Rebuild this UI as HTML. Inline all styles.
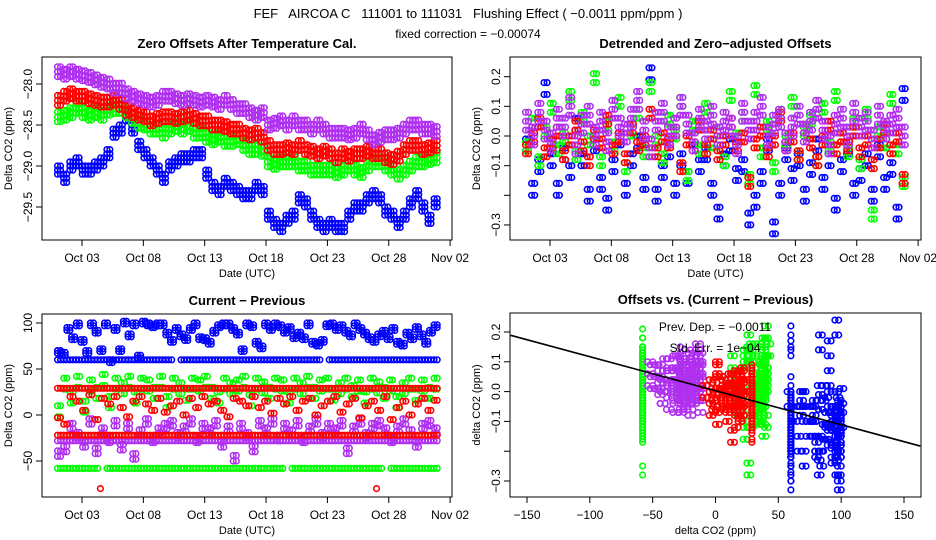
<!DOCTYPE html>
<html><head><meta charset="utf-8"><style>
body{margin:0;background:#fff}
svg{display:block;font-family:"Liberation Sans",sans-serif}
</style></head><body>
<svg id="chart" width="936" height="540" viewBox="0 0 936 540">
<rect width="936" height="540" fill="#fff"/>
<text x="468" y="18" font-size="13" text-anchor="middle" style="white-space:pre">FEF   AIRCOA C   111001 to 111031   Flushing Effect ( −0.0011 ppm/ppm )</text>
<text x="468" y="38" font-size="12" text-anchor="middle">fixed correction = −0.00074</text>
<g id="p1"></g>
<g id="p2"></g>
<g id="p3"></g>
<g id="p4"></g>
</svg>
<script>
// ---- Panel 1: zero offsets (half-day samples, Oct 1 .. Oct 31.5)
const p1Purple=[-27.85,-27.88,-27.85,-27.88,-27.9,-27.92,-27.95,-27.98,-28.0,-28.05,-28.05,-28.12,-28.15,-28.18,-28.2,-28.22,-28.2,-28.15,-28.15,-28.18,-28.2,-28.18,-28.2,-28.22,-28.2,-28.22,-28.25,-28.2,-28.25,-28.3,-28.3,-28.35,-28.38,-28.35,-28.5,-28.48,-28.45,-28.5,-28.45,-28.5,-28.5,-28.55,-28.5,-28.55,-28.6,-28.6,-28.6,-28.62,-28.6,-28.55,-28.62,-28.68,-28.65,-28.62,-28.62,-28.6,-28.55,-28.5,-28.5,-28.55,-28.55,-28.58];
const p1Red=[-28.2,-28.15,-28.12,-28.15,-28.15,-28.18,-28.2,-28.22,-28.22,-28.2,-28.25,-28.32,-28.35,-28.38,-28.4,-28.45,-28.42,-28.4,-28.4,-28.42,-28.4,-28.38,-28.42,-28.45,-28.45,-28.5,-28.5,-28.52,-28.55,-28.55,-28.6,-28.62,-28.6,-28.65,-28.75,-28.8,-28.8,-28.78,-28.8,-28.75,-28.8,-28.82,-28.85,-28.82,-28.85,-28.9,-28.85,-28.88,-28.85,-28.85,-28.82,-28.85,-28.85,-28.9,-28.92,-28.88,-28.8,-28.75,-28.75,-28.8,-28.78,-28.75];
const p1Green=[-28.4,-28.38,-28.35,-28.3,-28.35,-28.38,-28.35,-28.38,-28.32,-28.3,-28.3,-28.35,-28.42,-28.48,-28.5,-28.55,-28.55,-28.6,-28.55,-28.52,-28.55,-28.52,-28.6,-28.6,-28.65,-28.68,-28.65,-28.7,-28.7,-28.68,-28.75,-28.8,-28.8,-28.82,-28.95,-28.98,-28.95,-28.95,-28.95,-29.0,-29.0,-29.05,-29.05,-29.05,-29.05,-29.08,-29.05,-29.0,-29.05,-29.08,-29.0,-28.95,-28.95,-29.0,-29.05,-29.1,-29.05,-29.0,-28.95,-28.95,-28.92,-28.9];
const p1Blue=[-29.05,-29.15,-29.0,-28.95,-29.05,-29.05,-29.0,-28.95,-28.85,-28.6,-28.55,-28.4,-28.55,-28.75,-28.85,-28.95,-29.05,-29.15,-29.0,-28.95,-28.9,-28.9,-28.85,-28.85,-29.1,-29.25,-29.3,-29.2,-29.25,-29.3,-29.35,-29.35,-29.25,-29.3,-29.6,-29.7,-29.75,-29.65,-29.6,-29.4,-29.45,-29.6,-29.7,-29.75,-29.7,-29.75,-29.75,-29.6,-29.5,-29.5,-29.4,-29.35,-29.4,-29.55,-29.6,-29.7,-29.6,-29.45,-29.35,-29.5,-29.65,-29.45];
const p1Ticks=[-28.0,-28.5,-29.0,-29.5];
// ---- Panel 2: detrended offsets
const p2Purple=[0.05,0.0,0.08,0.02,-0.02,0.06,0.03,0.1,-0.03,0.04,0.07,0.0,0.05,-0.02,0.09,0.03,0.01,0.06,0.12,0.02,-0.04,0.05,0.08,0.0,0.03,0.1,0.04,-0.02,0.06,0.02,0.07,0.0,0.05,0.03,-0.03,0.08,0.02,0.05,0.1,0.0,0.04,0.06,-0.02,0.03,0.07,0.01,0.05,0.09,0.02,-0.03,0.04,0.06,0.0,0.08,0.03,0.05,-0.01,0.07,0.02,0.04,0.06,0.0];
const p2Red=[-0.06,-0.02,0.03,-0.07,-0.04,0.0,-0.08,-0.03,0.02,-0.05,-0.1,-0.01,-0.04,0.04,-0.06,-0.02,-0.09,0.01,-0.05,-0.03,0.06,-0.07,-0.02,-0.04,0.0,-0.12,-0.03,-0.05,0.02,-0.06,-0.01,-0.08,-0.03,0.03,-0.05,-0.02,-0.17,-0.04,0.0,-0.07,-0.03,0.05,-0.05,-0.02,-0.08,0.01,-0.04,-0.1,-0.03,0.02,-0.06,-0.02,-0.05,0.0,-0.07,-0.03,-0.11,-0.04,0.01,-0.06,-0.02,-0.16];
const p2Green=[-0.05,0.03,-0.1,0.0,0.08,-0.06,-0.02,0.12,-0.08,0.05,-0.03,0.18,-0.1,0.02,-0.05,0.1,-0.12,0.0,0.06,-0.07,0.15,-0.03,-0.09,0.04,-0.01,0.1,-0.15,0.02,-0.06,0.08,-0.04,0.0,-0.1,0.12,-0.02,0.05,-0.16,0.14,-0.07,0.02,-0.12,0.06,-0.03,0.1,-0.08,0.0,0.04,-0.1,0.08,-0.05,0.12,-0.02,-0.07,0.03,-0.11,0.06,-0.28,0.0,-0.04,0.11,-0.06,-0.17];
const p2Blue=[-0.05,-0.2,-0.12,0.14,-0.1,-0.2,-0.08,-0.14,0.02,-0.1,-0.22,-0.05,-0.18,-0.25,-0.12,-0.03,-0.2,-0.1,-0.04,-0.18,0.19,-0.22,-0.14,-0.07,-0.2,-0.1,-0.16,-0.03,-0.12,-0.08,-0.2,-0.28,-0.1,-0.05,-0.15,-0.12,-0.3,-0.24,-0.16,-0.05,-0.33,-0.2,-0.08,-0.15,-0.1,-0.22,-0.13,-0.05,-0.18,-0.1,-0.25,-0.12,-0.06,-0.2,-0.15,-0.1,-0.22,-0.07,-0.18,-0.13,-0.28,0.12];
const p2Ticks=[0.2,0.1,0.0,-0.1,-0.2,-0.3];
const p2TickLabels=["0.2","0.1","0.0","−0.1","","−0.3"];
// ---- Panel 3: current - previous
const p3BlueConst=[60,60,60,60,60,60,60,60,60,60,60,60,60,60,60,60,60,60,60,null,60,60,60,60,60,60,60,60,60,60,60,60,60,60,60,60,60,60,60,60,60,60,60,null,60,60,60,60,60,60,60,60,60,60,60,60,60,60,60,60,60,60];
const p3BlueScatter=[70,68,95,85,100,82,70,100,92,72,100,60,95,72,102,88,100,65,102,100,98,100,100,90,82,95,88,84,95,100,85,84,80,92,98,100,100,95,90,72,100,98,80,75,100,95,100,98,92,96,86,90,85,100,80,78,82,99,100,95,98,92,88,100,95,90,85,82,88,92,85,95,80,78,90,85,96,88,80,92,98];
const p3GreenConst=[-58,-58,-58,-58,-58,-58,-58,null,-58,-58,-58,-58,-58,-58,-58,-58,-58,-58,-58,-58,-58,-58,-58,-58,-58,-58,-58,-58,-58,-58,-58,-58,-58,-58,-58,-58,-58,null,-58,-58,-58,-58,-58,-58,-58,-58,-58,-58,-58,-58,-58,-58,-58,null,-58,-58,-58,-58,-58,-58,-58,-58];
const p3GreenScatter=[10,40,25,42,15,38,30,44,20,40,35,42,25,40,38,30,42,20,40,35,28,40,38,42,30,25,40,35,38,42,22,40,36,30,40,38,25,40,35,42,30,38,40,28,35,40,32,38,25,40,36,30,38,20,35,40,28,38,30,40];
const p3RedConstHigh=[29,29,29,29,29,29,29,29,29,29,29,29,29,29,29,29,29,29,29,29,29,29,29,29,29,29,29,29,29,29,29,29,29,29,29,29,29,29,29,29,29,29,29,29,29,29,29,29,29,29,29,29,29,29,29,29,29,29,29,29,29,29];
const p3RedConstLow=[-22,-22,-22,-22,-22,-22,-22,-22,-22,-22,-22,-22,-22,-22,-22,-22,-22,-22,-22,-22,-22,-22,-22,-22,-22,-22,-22,-22,-22,-22,-22,-22,-22,-22,-22,-22,-22,-22,-22,-22,-22,-22,-22,-22,-22,-22,-22,-22,-22,-22,-22,-22,-22,-22,-22,-22,-22,-22,-22,-22,-22,-22];
const p3RedScatter=[-3,-10,20,15,5,22,-5,18,12,20,8,-2,15,20,12,5,18,3,10,15,0,18,8,20,12,15,5,-2,18,15,10,20,8,15,2,18,12,20,5,15,18,0,10,15,20,3,12,18,-3,10,15,5,20,-5,8,15,0,12,18,5,16];
const p3PurpleConst=[-28,-28,-28,-28,-28,-28,-28,-28,-28,-28,-28,-28,-28,-28,-28,-28,-28,-28,-28,-28,-28,-28,-28,-28,-28,-28,-28,-28,-28,-28,-28,-28,-28,-28,-28,-28,-28,-28,-28,-28,-28,-28,-28,-28,-28,-28,-28,-28,-28,-28,-28,-28,-28,-28,-28,-28,-28,-28,-28,-28,-28,-28];
const p3PurpleScatter=[-45,-40,-15,-25,-35,-10,-42,-20,-30,-12,-38,-15,-48,-22,-10,-30,-20,-15,-12,-25,-18,-10,-30,-15,-20,-12,-35,-18,-50,-15,-25,-40,-12,-20,-10,-28,-15,-22,-12,-30,-18,-10,-25,-15,-20,-12,-42,-18,-10,-25,-15,-12,-20,-30,-18,-10,-22,-35,-15,-12,-20];
const p3RedOutlierDays=[4.5,27];
const p3RedOutlierValues=[-80,-80];
const p3Ticks=[100,50,0,-50];
// ---- Panel 4 fit
const fitSlope=-0.00114;
const fitIntercept=0.003;
const p4XTicks=[-150,-100,-50,0,50,100,150];
const dateTickDays=[3,8,13,18,23,28,33];
const dateTickLabels=["Oct 03","Oct 08","Oct 13","Oct 18","Oct 23","Oct 28","Nov 02"];

const NS="http://www.w3.org/2000/svg";
function mk(parent,tag,attrs){const e=document.createElementNS(NS,tag);for(const k in attrs)e.setAttribute(k,attrs[k]);parent.appendChild(e);return e;}
const dayX=(L)=>d=>82+(d-3)*12.27+(L-42);
function linY(v0,y0,v1,y1){return v=>y0+(v-v0)*(y1-y0)/(v1-v0);}
const COL={blue:"#0000ff",green:"#00ff00",red:"#ff0000",purple:"#b030f0"};
function dayOf(arr,i){return 1+i*30.7/(arr.length-1);}

function frame(g,L,T,R,B,title,ylab,xlab){
  const f=mk(g,"rect",{x:L,y:T,width:R-L,height:B-T,fill:"none",stroke:"#000","stroke-width":1});
  
  
  const t=mk(g,"text",{x:(L+R)/2,y:T-9,"font-size":13,"font-weight":"bold","text-anchor":"middle"});t.textContent=title;
  
  
  const yl=mk(g,"text",{x:0,y:0,"font-size":11,"text-anchor":"middle",transform:`translate(${L-30},${(T+B)/2}) rotate(-90)`});yl.textContent=ylab;
  
  
  const xl=mk(g,"text",{x:(L+R)/2,y:B+37,"font-size":11,"text-anchor":"middle"});xl.textContent=xlab;
  
  
}
function yTicks(g,L,ys,vals,labels){
  vals.forEach((v,i)=>{const y=ys(v);
    const tk=mk(g,"line",{x1:L,x2:L-6,y1:y,y2:y,stroke:"#000"});
    
    
    const lab=labels?labels[i]:(v<0?"−"+Math.abs(v):String(v));
    if(!lab)return;
    const t=mk(g,"text",{x:0,y:0,"font-size":12,"text-anchor":"middle",transform:`translate(${L-10},${y}) rotate(-90)`});t.textContent=lab;
    
    
  });
}
function xTicks(g,B,xs,vals,labels){
  vals.forEach((v,i)=>{const x=xs(v);
    const tk=mk(g,"line",{x1:x,x2:x,y1:B,y2:B+6,stroke:"#000"});
    
    
    const t=mk(g,"text",{x:x,y:B+22,"font-size":12,"text-anchor":"middle"});t.textContent=labels[i];
    
    
  });
}
function pts(g,name,color,xsArr,ysArr,xs,ys,dys,dxs){
  const s=mk(g,"g",{fill:"none",stroke:color,"stroke-width":1.6});
  
  
  const n=Math.min(xsArr.length,ysArr.length);
  for(let i=0;i<n;i++){
    if(xsArr[i]==null||ysArr[i]==null)continue;
    for(const dx of dxs)for(const dy of dys){
      const c=mk(s,"circle",{cx:xs(xsArr[i]+dx).toFixed(1),cy:ys(ysArr[i]+dy).toFixed(1),r:2.8});
      
      
    }
  }
}
function days(arr){return arr.map((_,i)=>dayOf(arr,i));}

// Panel 1
(function(){const g=document.getElementById("p1");const L=42,T=57,R=452,B=240;
  const xs=dayX(L),ys=linY(-28,84,-29,166);
  frame(g,L,T,R,B,"Zero Offsets After Temperature Cal.","Delta CO2 (ppm)","Date (UTC)");
  yTicks(g,L,ys,p1Ticks,["−28.0","−28.5","−29.0","−29.5"]);
  xTicks(g,B,xs,dateTickDays,dateTickLabels);
  const D=[0,0.25];
  pts(g,"blue-series",COL.blue,days(p1Blue),p1Blue,xs,ys,[-0.05,0,0.05],D);
  pts(g,"green-series",COL.green,days(p1Green),p1Green,xs,ys,[-0.06,0,0.06],D);
  pts(g,"red-series",COL.red,days(p1Red),p1Red,xs,ys,[-0.06,0,0.06],D);
  pts(g,"purple-series",COL.purple,days(p1Purple),p1Purple,xs,ys,[-0.06,0,0.06],D);
})();
// Panel 2
(function(){const g=document.getElementById("p2");const L=510,T=57,R=921,B=240;
  const xs=dayX(L),ys=linY(0,136,0.2,76.7);
  frame(g,L,T,R,B,"Detrended and Zero−adjusted Offsets","Delta CO2 (ppm)","Date (UTC)");
  yTicks(g,L,ys,p2Ticks,p2TickLabels);
  xTicks(g,B,xs,dateTickDays,dateTickLabels);
  const D=[0,0.25];
  pts(g,"blue-series",COL.blue,days(p2Blue),p2Blue,xs,ys,[0,0.04],D);
  pts(g,"green-series",COL.green,days(p2Green),p2Green,xs,ys,[0,0.03],D);
  pts(g,"red-series",COL.red,days(p2Red),p2Red,xs,ys,[0,0.03],D);
  pts(g,"purple-series",COL.purple,days(p2Purple),p2Purple,xs,ys,[-0.03,0,0.03],D);
})();
// Panel 3
(function(){const g=document.getElementById("p3");const L=42,T=314,R=452,B=497;
  const xs=dayX(L),ys=linY(0,415,100,323);
  frame(g,L,T,R,B,"Current − Previous","Delta CO2 (ppm)","Date (UTC)");
  yTicks(g,L,ys,p3Ticks);
  xTicks(g,B,xs,dateTickDays,dateTickLabels);
  const D=[0,0.25];
  pts(g,"blue-constant-series",COL.blue,days(p3BlueConst),p3BlueConst,xs,ys,[0],D);
  pts(g,"blue-series",COL.blue,days(p3BlueScatter),p3BlueScatter,xs,ys,[0,-3],D);
  pts(g,"green-constant-series",COL.green,days(p3GreenConst),p3GreenConst,xs,ys,[0],D);
  pts(g,"green-series",COL.green,days(p3GreenScatter),p3GreenScatter,xs,ys,[0,-12],D);
  pts(g,"purple-series",COL.purple,days(p3PurpleScatter),p3PurpleScatter,xs,ys,[0,6],D);
  pts(g,"purple-constant-series",COL.purple,days(p3PurpleConst),p3PurpleConst,xs,ys,[0],D);
  pts(g,"red-constant-high-series",COL.red,days(p3RedConstHigh),p3RedConstHigh,xs,ys,[0],D);
  pts(g,"red-constant-low-series",COL.red,days(p3RedConstLow),p3RedConstLow,xs,ys,[0],D);
  pts(g,"red-series",COL.red,days(p3RedScatter),p3RedScatter,xs,ys,[0],D);
  pts(g,"red-outliers",COL.red,p3RedOutlierDays,p3RedOutlierValues,xs,ys,[0],[0]);
})();
// Panel 4
(function(){const g=document.getElementById("p4");const L=510,T=313,R=921,B=497;
  const xs=linY(0,715.5,150,904),ys=linY(0,391.6,0.2,332);
  frame(g,L,T,R,B,"Offsets vs. (Current − Previous)","delta CO2 (ppm)","delta CO2 (ppm)");
  yTicks(g,L,ys,p2Ticks,p2TickLabels);
  xTicks(g,B,xs,p4XTicks,p4XTicks.map(v=>v<0?"−"+Math.abs(v):String(v)));
  const clip=mk(g,"g",{});
  
  
  const D=[0],Y=[0,0.03];
  pts(clip,"blue-series",COL.blue,p3BlueConst,p2Blue,xs,ys,Y,D);
  pts(clip,"blue-scatter-series",COL.blue,p3BlueScatter,p2Blue,xs,ys,[0,0.05],[0,-3]);
  pts(clip,"green-series",COL.green,p3GreenConst,p2Green,xs,ys,Y,D);
  pts(clip,"green-scatter-series",COL.green,p3GreenScatter,p2Green,xs,ys,[0,0.04],[0,-3]);
  pts(clip,"purple-series",COL.purple,p3PurpleScatter,p2Purple,xs,ys,[0,0.04,-0.04],[0,-4]);
  pts(clip,"purple-constant-series",COL.purple,p3PurpleConst,p2Purple,xs,ys,Y,D);
  pts(clip,"red-series",COL.red,p3RedScatter,p2Red,xs,ys,[0,0.04],[0,3]);
  pts(clip,"red-constant-series",COL.red,p3RedConstHigh,p2Red,xs,ys,Y,D);
  const x0=-163,x1=163;
  const fl=mk(g,"line",{x1:xs(x0),y1:ys(fitIntercept+fitSlope*x0),x2:xs(x1),y2:ys(fitIntercept+fitSlope*x1),stroke:"#000","stroke-width":1.6});
  
  
  const a=mk(g,"text",{x:715,y:331,"font-size":12,"text-anchor":"middle"});a.textContent="Prev. Dep. =  −0.0011";
  
  
  const b=mk(g,"text",{x:715,y:352,"font-size":12,"text-anchor":"middle"});b.textContent="Std. Err. =  1e−04";
  
  
})();
</script>
</body></html>
